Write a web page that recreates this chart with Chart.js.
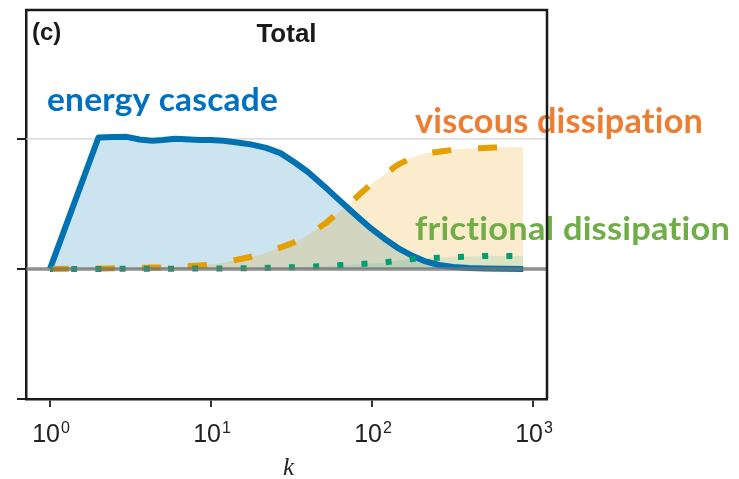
<!DOCTYPE html>
<html>
<head>
<meta charset="utf-8">
<script src="https://cdn.jsdelivr.net/npm/chart.js@4.4.1/dist/chart.umd.min.js"></script>
<style>
  html, body { margin: 0; padding: 0; background: #fff; }
  #wrap { width: 739px; height: 479px; }
</style>
</head>
<body>
<div id="wrap"><canvas id="spectra" width="739" height="479"></canvas></div>
<script>
// Wavenumber grid shared by the three budget terms
const wavenumbers = [1, 2, 2.5, 3, 3.6, 4.3, 5, 6, 7, 8.5, 10, 12, 15, 18, 22, 27, 33, 40, 50, 60, 72, 85, 100, 120, 145, 175, 210, 260, 320, 400, 500, 650, 870];

// Normalised cumulative energy budget terms
const energyCascade = [0, 1.01, 1.013, 1.015, 0.995, 0.985, 0.99, 1.0, 0.997, 0.99, 0.99, 0.985, 0.97, 0.955, 0.93, 0.89, 0.82, 0.745, 0.64, 0.55, 0.46, 0.38, 0.305, 0.23, 0.16, 0.105, 0.062, 0.03, 0.015, 0.007, 0.003, 0.001, 0];
const viscousDissipation = [0, 0.003, 0.005, 0.006, 0.008, 0.01, 0.012, 0.015, 0.02, 0.027, 0.035, 0.05, 0.075, 0.095, 0.125, 0.165, 0.205, 0.26, 0.34, 0.42, 0.5, 0.58, 0.655, 0.725, 0.8, 0.85, 0.885, 0.9, 0.915, 0.925, 0.93, 0.935, 0.935];
const frictionalDissipation = [0, 0, 0, 0.001, 0.001, 0.001, 0.002, 0.002, 0.002, 0.003, 0.003, 0.004, 0.005, 0.006, 0.008, 0.01, 0.013, 0.017, 0.022, 0.028, 0.033, 0.038, 0.043, 0.05, 0.062, 0.075, 0.081, 0.086, 0.091, 0.095, 0.1, 0.1, 0.1];

// Axis ticks and labels
const xTickValues = [1, 10, 100, 1000];
const xTickExponents = ['0', '1', '2', '3'];
const yTickValues = [-1, 0, 1];
const panelLabel = '(c)';
const panelTitle = 'Total';
const xAxisTitle = 'k';
const seriesNames = ['energy cascade', 'viscous dissipation', 'frictional dissipation'];

const toPoints = vals => wavenumbers.map((k, i) => ({ x: k, y: vals[i] }));

function drawFitted(ctx, text, left, right, baseline, size, color) {
  ctx.save();
  ctx.font = 'bold ' + size + 'px Lato, "Open Sans", sans-serif';
  // keep letters separate (no "ti" ligature)
  if ('letterSpacing' in ctx) ctx.letterSpacing = '0.2px';
  if ('textRendering' in ctx) ctx.textRendering = 'optimizeSpeed';
  const w = ctx.measureText(text).width;
  ctx.translate(left, baseline);
  ctx.scale((right - left) / w, 1);
  ctx.fillStyle = color;
  ctx.textAlign = 'left';
  ctx.textBaseline = 'alphabetic';
  ctx.fillText(text, 0, 0);
  ctx.restore();
}

const decor = {
  id: 'decor',
  beforeDatasetsDraw(chart) {
    const { ctx, chartArea: a, scales: { y } } = chart;
    const y1 = y.getPixelForValue(1);
    ctx.save();
    ctx.strokeStyle = '#d2d2d2';
    ctx.lineWidth = 1.2;
    ctx.beginPath();
    ctx.moveTo(a.left, y1);
    ctx.lineTo(a.right, y1);
    ctx.stroke();
    ctx.restore();
  },
  afterDatasetsDraw(chart) {
    const { ctx, chartArea: a, scales: { y } } = chart;
    const y0 = y.getPixelForValue(0);
    ctx.save();
    ctx.strokeStyle = 'rgba(115,115,115,0.8)';
    ctx.lineWidth = 3.5;
    ctx.beginPath();
    ctx.moveTo(a.left, y0);
    ctx.lineTo(a.right, y0);
    ctx.stroke();
    ctx.restore();

    drawFitted(ctx, seriesNames[0], 47, 278, 111, 32, '#0070c0');
    drawFitted(ctx, seriesNames[1], 415, 703, 133, 34, '#ed7d31');
    drawFitted(ctx, seriesNames[2], 415, 730, 240, 33, '#70ad47');
  },
  afterDraw(chart) {
    const { ctx, chartArea: a, scales: { x } } = chart;
    ctx.save();
    // closing frame on top and right
    ctx.strokeStyle = '#1a1a1a';
    ctx.lineWidth = 2.5;
    ctx.beginPath();
    ctx.moveTo(a.left - 1, a.top);
    ctx.lineTo(a.right, a.top);
    ctx.lineTo(a.right, a.bottom);
    ctx.stroke();

    // power-of-ten tick labels
    ctx.fillStyle = '#222';
    ctx.textBaseline = 'alphabetic';
    ctx.textAlign = 'left';
    xTickValues.forEach((v, i) => {
      const px = x.getPixelForValue(v);
      ctx.font = '25px "Liberation Sans", Arial, sans-serif';
      const wBase = ctx.measureText('10').width;
      ctx.font = '16px "Liberation Sans", Arial, sans-serif';
      const wExp = ctx.measureText(xTickExponents[i]).width;
      const start = px - (wBase + wExp + 1) / 2 + 1;
      ctx.font = '25px "Liberation Sans", Arial, sans-serif';
      ctx.fillText('10', start, 442);
      ctx.font = '16px "Liberation Sans", Arial, sans-serif';
      ctx.fillText(xTickExponents[i], start + wBase + 1, 433);
    });

    // axis title
    ctx.textAlign = 'center';
    ctx.font = 'italic 25px "Liberation Serif", "DejaVu Serif", serif';
    ctx.fillText(xAxisTitle, (a.left + a.right) / 2 + 2, 475);

    // panel label and title
    ctx.fillStyle = '#1a1a1a';
    ctx.font = 'bold 26px "Liberation Sans", Arial, sans-serif';
    ctx.fillText(panelTitle, (a.left + a.right) / 2, 42);
    ctx.textAlign = 'left';
    ctx.font = 'bold 24px "Liberation Sans", Arial, sans-serif';
    ctx.fillText(panelLabel, 32, 40);
    ctx.restore();
  }
};

new Chart(document.getElementById('spectra'), {
  type: 'line',
  data: {
    datasets: [
      {
        label: seriesNames[2],
        data: toPoints(frictionalDissipation),
        borderColor: '#009e73',
        backgroundColor: 'rgba(0,158,115,0.12)',
        borderWidth: 6,
        borderDash: [6, 18.2],
        borderDashOffset: 3,
        borderCapStyle: 'butt',
        fill: 'origin',
        pointRadius: 0,
        tension: 0
      },
      {
        label: seriesNames[1],
        data: toPoints(viscousDissipation),
        borderColor: '#e69f00',
        backgroundColor: 'rgba(230,159,0,0.2)',
        borderWidth: 6,
        borderDash: [19, 27],
        borderCapStyle: 'butt',
        fill: 'origin',
        pointRadius: 0,
        tension: 0.2
      },
      {
        label: seriesNames[0],
        data: toPoints(energyCascade),
        borderColor: '#0072b2',
        backgroundColor: 'rgba(0,114,178,0.2)',
        borderWidth: 6,
        borderJoinStyle: 'round',
        fill: 'origin',
        pointRadius: 0,
        tension: 0
      }
    ]
  },
  options: {
    responsive: false,
    animation: false,
    devicePixelRatio: 1,
    layout: { padding: { left: 0, top: 10, right: 192, bottom: 0 } },
    plugins: {
      legend: { display: false },
      tooltip: { enabled: false },
      filler: { propagate: false, drawTime: 'beforeDatasetsDraw' }
    },
    scales: {
      x: {
        type: 'logarithmic',
        min: 0.7096,
        max: 1222,
        bounds: 'data',
        afterBuildTicks: s => { s.ticks = xTickValues.map(v => ({ value: v })); },
        afterFit: s => { s.height = 80; },
        ticks: { display: false },
        grid: { drawOnChartArea: false, drawTicks: true, tickLength: 8, color: '#333', lineWidth: 2 },
        border: { display: true, color: '#1a1a1a', width: 2.5 }
      },
      y: {
        type: 'linear',
        min: -1,
        max: 1.99,
        bounds: 'data',
        afterBuildTicks: s => { s.ticks = yTickValues.map(v => ({ value: v })); },
        afterFit: s => { s.width = 26; },
        ticks: { display: false },
        grid: { drawOnChartArea: false, drawTicks: true, tickLength: 9, color: '#222', lineWidth: 2 },
        border: { display: true, color: '#1a1a1a', width: 2.5 }
      }
    }
  },
  plugins: [decor]
});
</script>
</body>
</html>
